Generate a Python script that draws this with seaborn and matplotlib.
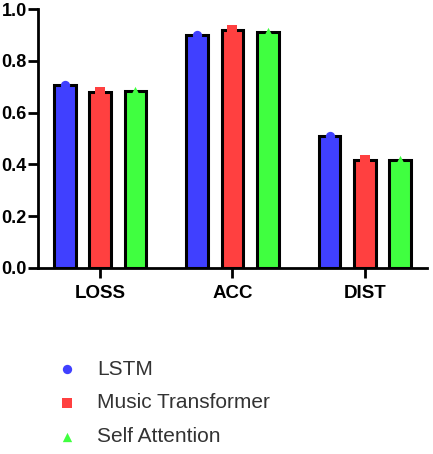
import pandas as pd
import numpy as np
import matplotlib
matplotlib.use("Agg")
import matplotlib.pyplot as plt
import seaborn as sns

### Data
metrics = ["LOSS", "ACC", "DIST"]
models = ["LSTM", "Music Transformer", "Self Attention"]
lstm_vals = [0.705, 0.900, 0.510]
transformer_vals = [0.680, 0.920, 0.418]
attention_vals = [0.685, 0.910, 0.418]

colors = ["#4040FF", "#FF4040", "#40FF40"]
markers = ["o", "s", "^"]

df = pd.DataFrame({
    "metric": metrics * 3,
    "model": [m for m in models for _ in metrics],
    "value": lstm_vals + transformer_vals + attention_vals,
})

sns.set_style("ticks")
plt.rcParams["font.family"] = ["Liberation Sans", "DejaVu Sans"]

fig = plt.figure(figsize=(4.33, 4.54), dpi=100)
ax = fig.add_axes([38 / 433, 1 - 268 / 454, 389 / 433, 259 / 454])

sns.barplot(data=df, x="metric", y="value", hue="model", hue_order=models,
            palette=colors, gap=0.38, edgecolor="black", linewidth=2.2,
            saturation=1, legend=False, ax=ax)

## points on top of each bar (one per model)
handles = []
for cont, col, mk, name in zip(ax.containers, colors, markers, models):
    xs = [b.get_x() + b.get_width() / 2 for b in cont]
    ys = [b.get_height() for b in cont]
    h = ax.scatter(xs, ys, color=col, marker=mk, s=45, zorder=1, label=name,
                   linewidths=0)
    handles.append(h)

ax.set_ylim(0, 1.0)
ax.set_xlim(-0.47, 2.47)
ax.set_yticks(np.arange(0, 1.01, 0.2))
ax.set_yticklabels([f"{v:.1f}" for v in np.arange(0, 1.01, 0.2)])
ax.set_xlabel("")
ax.set_ylabel("")
for lab in ax.get_xticklabels() + ax.get_yticklabels():
    lab.set_fontweight("bold")
ax.tick_params(axis="both", length=7, width=2, color="black",
               labelcolor="black")
ax.tick_params(axis="x", pad=5, labelsize=13.5)
ax.tick_params(axis="y", pad=1, labelsize=13)
for s in ["left", "bottom"]:
    ax.spines[s].set_linewidth(2)
    ax.spines[s].set_color("black")
sns.despine(ax=ax)

fig.legend(handles=handles, labels=models, loc="center left",
           bbox_to_anchor=(56.6 / 433, 1 - 403 / 454), frameon=False,
           fontsize=15, labelcolor="#333333", handlelength=1.0,
           handletextpad=0.93, labelspacing=0.7, borderpad=0,
           borderaxespad=0, markerscale=1.0)

fig.savefig("out.png", dpi=100)
